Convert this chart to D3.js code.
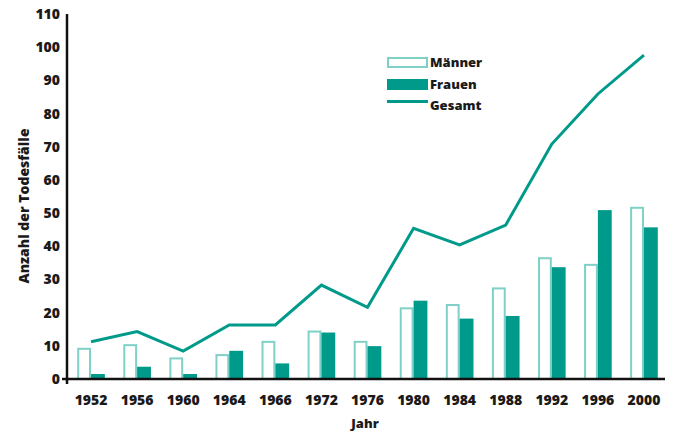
<!DOCTYPE html>
<html><head><meta charset="utf-8">
<script src="https://cdn.jsdelivr.net/npm/d3@7"></script>
<style>
body{margin:0;background:#fff;}
text{font-family:"Open Sans","DejaVu Sans",sans-serif;font-weight:800;fill:#1a1a1a;}
</style></head>
<body><svg id="c" width="678" height="432"></svg>
<script>
const years = ["1952","1956","1960","1964","1966","1972","1976","1980","1984","1988","1992","1996","2000"];
const maenner = [9.4,10.5,6.5,7.5,11.5,14.6,11.5,21.6,22.6,27.6,36.7,34.7,51.9];
const frauen = [1.5,3.7,1.5,8.5,4.7,14.0,9.9,23.6,18.2,19.0,33.7,50.9,45.7];
const gesamt = [11.2,14.3,8.4,16.3,16.3,28.3,21.6,45.4,40.4,46.4,70.8,85.9,97.6];
const yTicks = [0,10,20,30,40,50,60,70,80,90,100,110];
const seriesNames = ["Männer","Frauen","Gesamt"];

const teal = "#009a8a", light = "#7fd1c7";
const svg = d3.select("#c");
const x = d3.scaleBand().domain(years).range([68,667]).paddingInner(0.4).paddingOuter(0.2);
const xs = d3.scaleBand().domain(seriesNames.slice(0,2)).range([0,x.bandwidth()]);
const y = d3.scaleLinear().domain([0,110]).range([379,14]);

// bars
const g = svg.append("g");
years.forEach((yr,i)=>{
  g.append("rect").attr("x",x(yr)+xs("Männer")+1).attr("y",y(maenner[i])+1)
   .attr("width",xs.bandwidth()-2).attr("height",y(0)-y(maenner[i])-1)
   .attr("fill","#fff").attr("stroke",light).attr("stroke-width",2);
  g.append("rect").attr("x",x(yr)+xs("Frauen")).attr("y",y(frauen[i]))
   .attr("width",xs.bandwidth()).attr("height",y(0)-y(frauen[i]))
   .attr("fill",teal);
});
// line
const line = d3.line().x((d,i)=>x(years[i])+x.bandwidth()/2).y(d=>y(d));
svg.append("path").datum(gesamt).attr("d",line).attr("fill","none")
  .attr("stroke",teal).attr("stroke-width",3).attr("stroke-linejoin","miter");

// axes
const yAxis = d3.axisLeft(y).tickValues(yTicks).tickSize(0).tickPadding(7);
const ya = svg.append("g").attr("transform","translate(67,0)").call(yAxis);
ya.select(".domain").remove();
ya.selectAll("text").style("font-size","14px").attr("fill","#1a1a1a");
svg.append("line").attr("x1",67).attr("x2",67).attr("y1",14).attr("y2",384).attr("stroke","#111").attr("stroke-width",2.5);
svg.append("line").attr("x1",62).attr("x2",665).attr("y1",y(0)).attr("y2",y(0)).attr("stroke","#111").attr("stroke-width",2.5);

const xAxis = d3.axisBottom(x).tickSize(0).tickPadding(16);
const xa = svg.append("g").attr("transform",`translate(0,${y(0)})`).call(xAxis);
xa.select(".domain").remove();
xa.selectAll("text").style("font-size","14px").attr("fill","#1a1a1a");

svg.append("text").attr("x",365).attr("y",428).attr("text-anchor","middle").style("font-size","13px").text("Jahr");
svg.append("text").attr("transform","translate(29,206) rotate(-90)").attr("text-anchor","middle").style("font-size","14px").text("Anzahl der Todesfälle");

// legend
const lg = svg.append("g");
lg.append("rect").attr("x",388).attr("y",58).attr("width",39).attr("height",9).attr("fill","#fff").attr("stroke",light).attr("stroke-width",2);
lg.append("rect").attr("x",387).attr("y",79).attr("width",41).attr("height",11).attr("fill",teal);
lg.append("line").attr("x1",387).attr("x2",428).attr("y1",101.5).attr("y2",101.5).attr("stroke",teal).attr("stroke-width",3);
seriesNames.forEach((n,i)=>{
  lg.append("text").attr("x",430).attr("y",67+i*21.5).style("font-size","13px").text(n);
});
</script></body></html>
